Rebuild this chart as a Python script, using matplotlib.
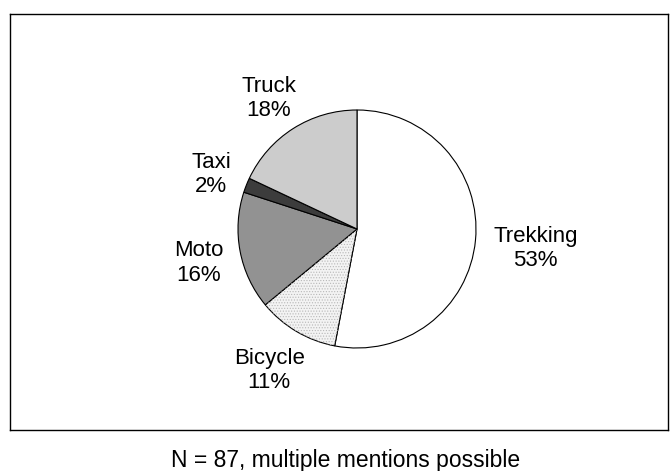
import numpy as np
import matplotlib.pyplot as plt
from matplotlib.patches import Wedge

plt.rcParams['font.family'] = ['Liberation Sans', 'DejaVu Sans']
plt.rcParams['hatch.linewidth'] = 0.5

labels = ['Trekking', 'Bicycle', 'Moto', 'Taxi', 'Truck']
shares = [53, 11, 16, 2, 18]
colors = ['#ffffff', '#f3f3f3', '#929292', '#3c3c3c', '#cccccc']
note = 'N = 87, multiple mentions possible'

W, H = 671, 471
fig = plt.figure(figsize=(W / 100, H / 100), dpi=100)

# axes covers the framed area
left, top, right, bottom = 10, 14, 668, 430
ax = fig.add_axes([left / W, 1 - bottom / H, (right - left) / W, (bottom - top) / H])

texts_in = [f'{l}\n{s}%' for l, s in zip(labels, shares)]
wedges, texts = ax.pie(shares, labels=texts_in, colors=colors, startangle=90,
                       counterclock=False, labeldistance=1.15,
                       wedgeprops=dict(edgecolor='black', linewidth=0.8),
                       textprops=dict(fontsize=16, linespacing=1.2))

# dotted fill for the bicycle slice
w = wedges[1]
ax.add_patch(Wedge(w.center, w.r, w.theta1, w.theta2, facecolor='none',
                   edgecolor='#b8b8b8', linewidth=0, hatch='......', zorder=w.get_zorder()))

# center of pie at (357, 229) px, radius ~119 px
cx, cy, r = 357, 229, 119
ax.set_xlim(-(cx - left) / r, (right - cx) / r)
ax.set_ylim(-(bottom - cy) / r, (cy - top) / r)
ax.set_aspect('auto')
ax.set_frame_on(True)
for s in ax.spines.values():
    s.set_color('black')
    s.set_linewidth(1)
ax.set_xticks([])
ax.set_yticks([])

# push each label outward so its box sits just outside the pie
fig.canvas.draw()
rend = fig.canvas.get_renderer()
for t, wd in zip(texts, wedges):
    ang = np.deg2rad((wd.theta1 + wd.theta2) / 2)
    bb = t.get_window_extent(rend)
    hw, hh = bb.width / 2 / r, bb.height / 2 / r
    x = 1.15 * np.cos(ang) + hw * np.cos(ang)
    y = 1.15 * np.sin(ang) + hh * np.sin(ang) - 0.035
    t.set_position((x, y))
    t.set_ha('center')
    t.set_va('center')

fig.text(346 / W, 1 - 449 / H, note, ha='center', va='top', fontsize=16.5)

fig.savefig('out.png', dpi=100)
